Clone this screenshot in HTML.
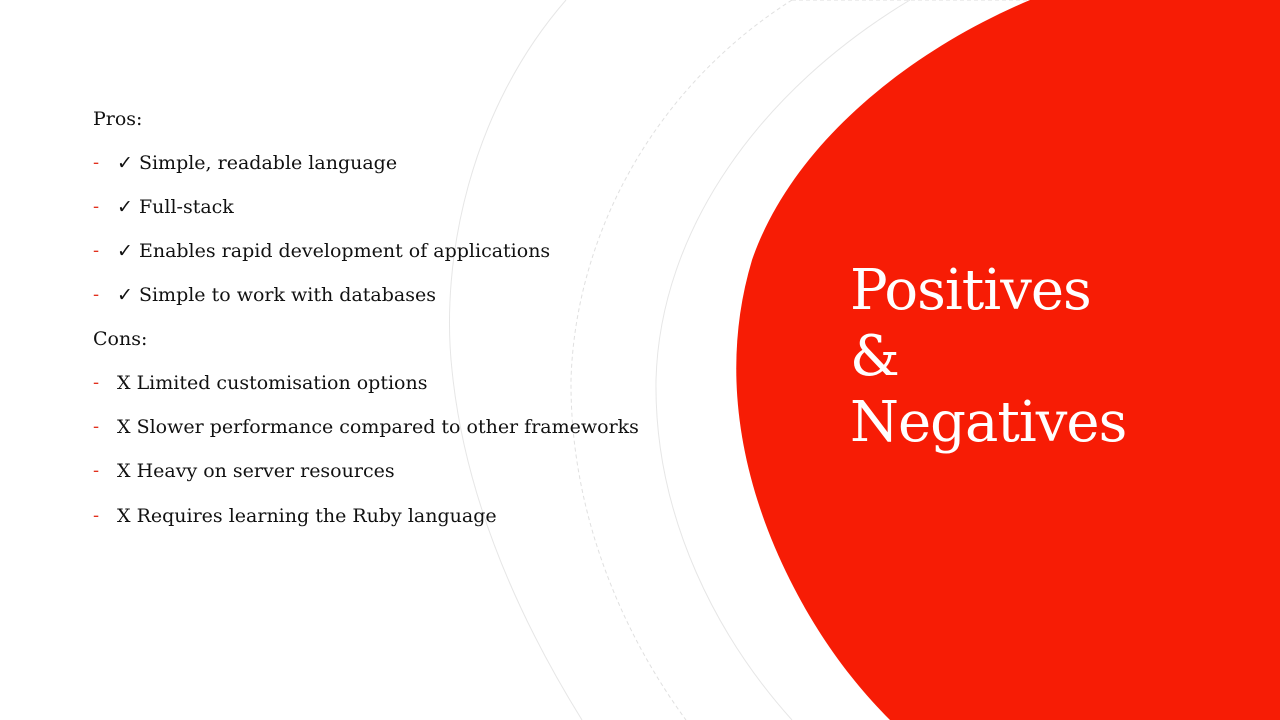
<!DOCTYPE html>
<html><head><meta charset="utf-8"><style>
html,body{margin:0;padding:0;background:#fff}
#s{position:relative;width:1280px;height:720px;overflow:hidden;background:#fff;font-family:"DejaVu Serif","Liberation Serif",serif}
.l{position:absolute;font-size:19px;color:#111;white-space:nowrap;line-height:1}
.d{position:absolute;left:93px;color:#e2301e;font-size:18px;line-height:1}
#t{position:absolute;left:850px;top:258px;color:#fff;font-size:56px;line-height:66px;letter-spacing:-1px}
</style></head><body>
<div id="s">
<svg width="1280" height="720" style="position:absolute;left:0;top:0">
<path d="M566,0 C470,110 440,260 452,370 C465,500 520,620 582,720" fill="none" stroke="#e6e6e6" stroke-width="1"/>
<path d="M792,0 C650,90 575,240 571,380 C570,510 620,630 686,720" fill="none" stroke="#e0e0e0" stroke-width="1" stroke-dasharray="4,3"/>
<path d="M910,0 C760,90 660,230 656,380 C654,520 720,640 792,720" fill="none" stroke="#e6e6e6" stroke-width="1"/>
<path d="M792,0 L1030,0" stroke="#ddd" stroke-dasharray="4,3"/>
<path d="M1030,0 C900,55 790,150 752,260 C722,360 735,470 790,580 C820,640 855,685 890,720 L1280,720 L1280,0 Z" fill="#f71c05"/>
</svg>
<div class="l" style="left:93px;top:110px">Pros:</div>
<div class="d" style="top:154px">-</div><div class="l" style="left:117px;top:154px">✓ Simple, readable language</div>
<div class="d" style="top:198px">-</div><div class="l" style="left:117px;top:198px">✓ Full-stack</div>
<div class="d" style="top:242px">-</div><div class="l" style="left:117px;top:242px">✓ Enables rapid development of applications</div>
<div class="d" style="top:286px">-</div><div class="l" style="left:117px;top:286px">✓ Simple to work with databases</div>
<div class="l" style="left:93px;top:330px">Cons:</div>
<div class="d" style="top:374px">-</div><div class="l" style="left:117px;top:374px">X Limited customisation options</div>
<div class="d" style="top:418px">-</div><div class="l" style="left:117px;top:418px">X Slower performance compared to other frameworks</div>
<div class="d" style="top:462px">-</div><div class="l" style="left:117px;top:462px">X Heavy on server resources</div>
<div class="d" style="top:507px">-</div><div class="l" style="left:117px;top:507px">X Requires learning the Ruby language</div>
<div id="t">Positives<br>&amp;<br>Negatives</div>
</div>
</body></html>
